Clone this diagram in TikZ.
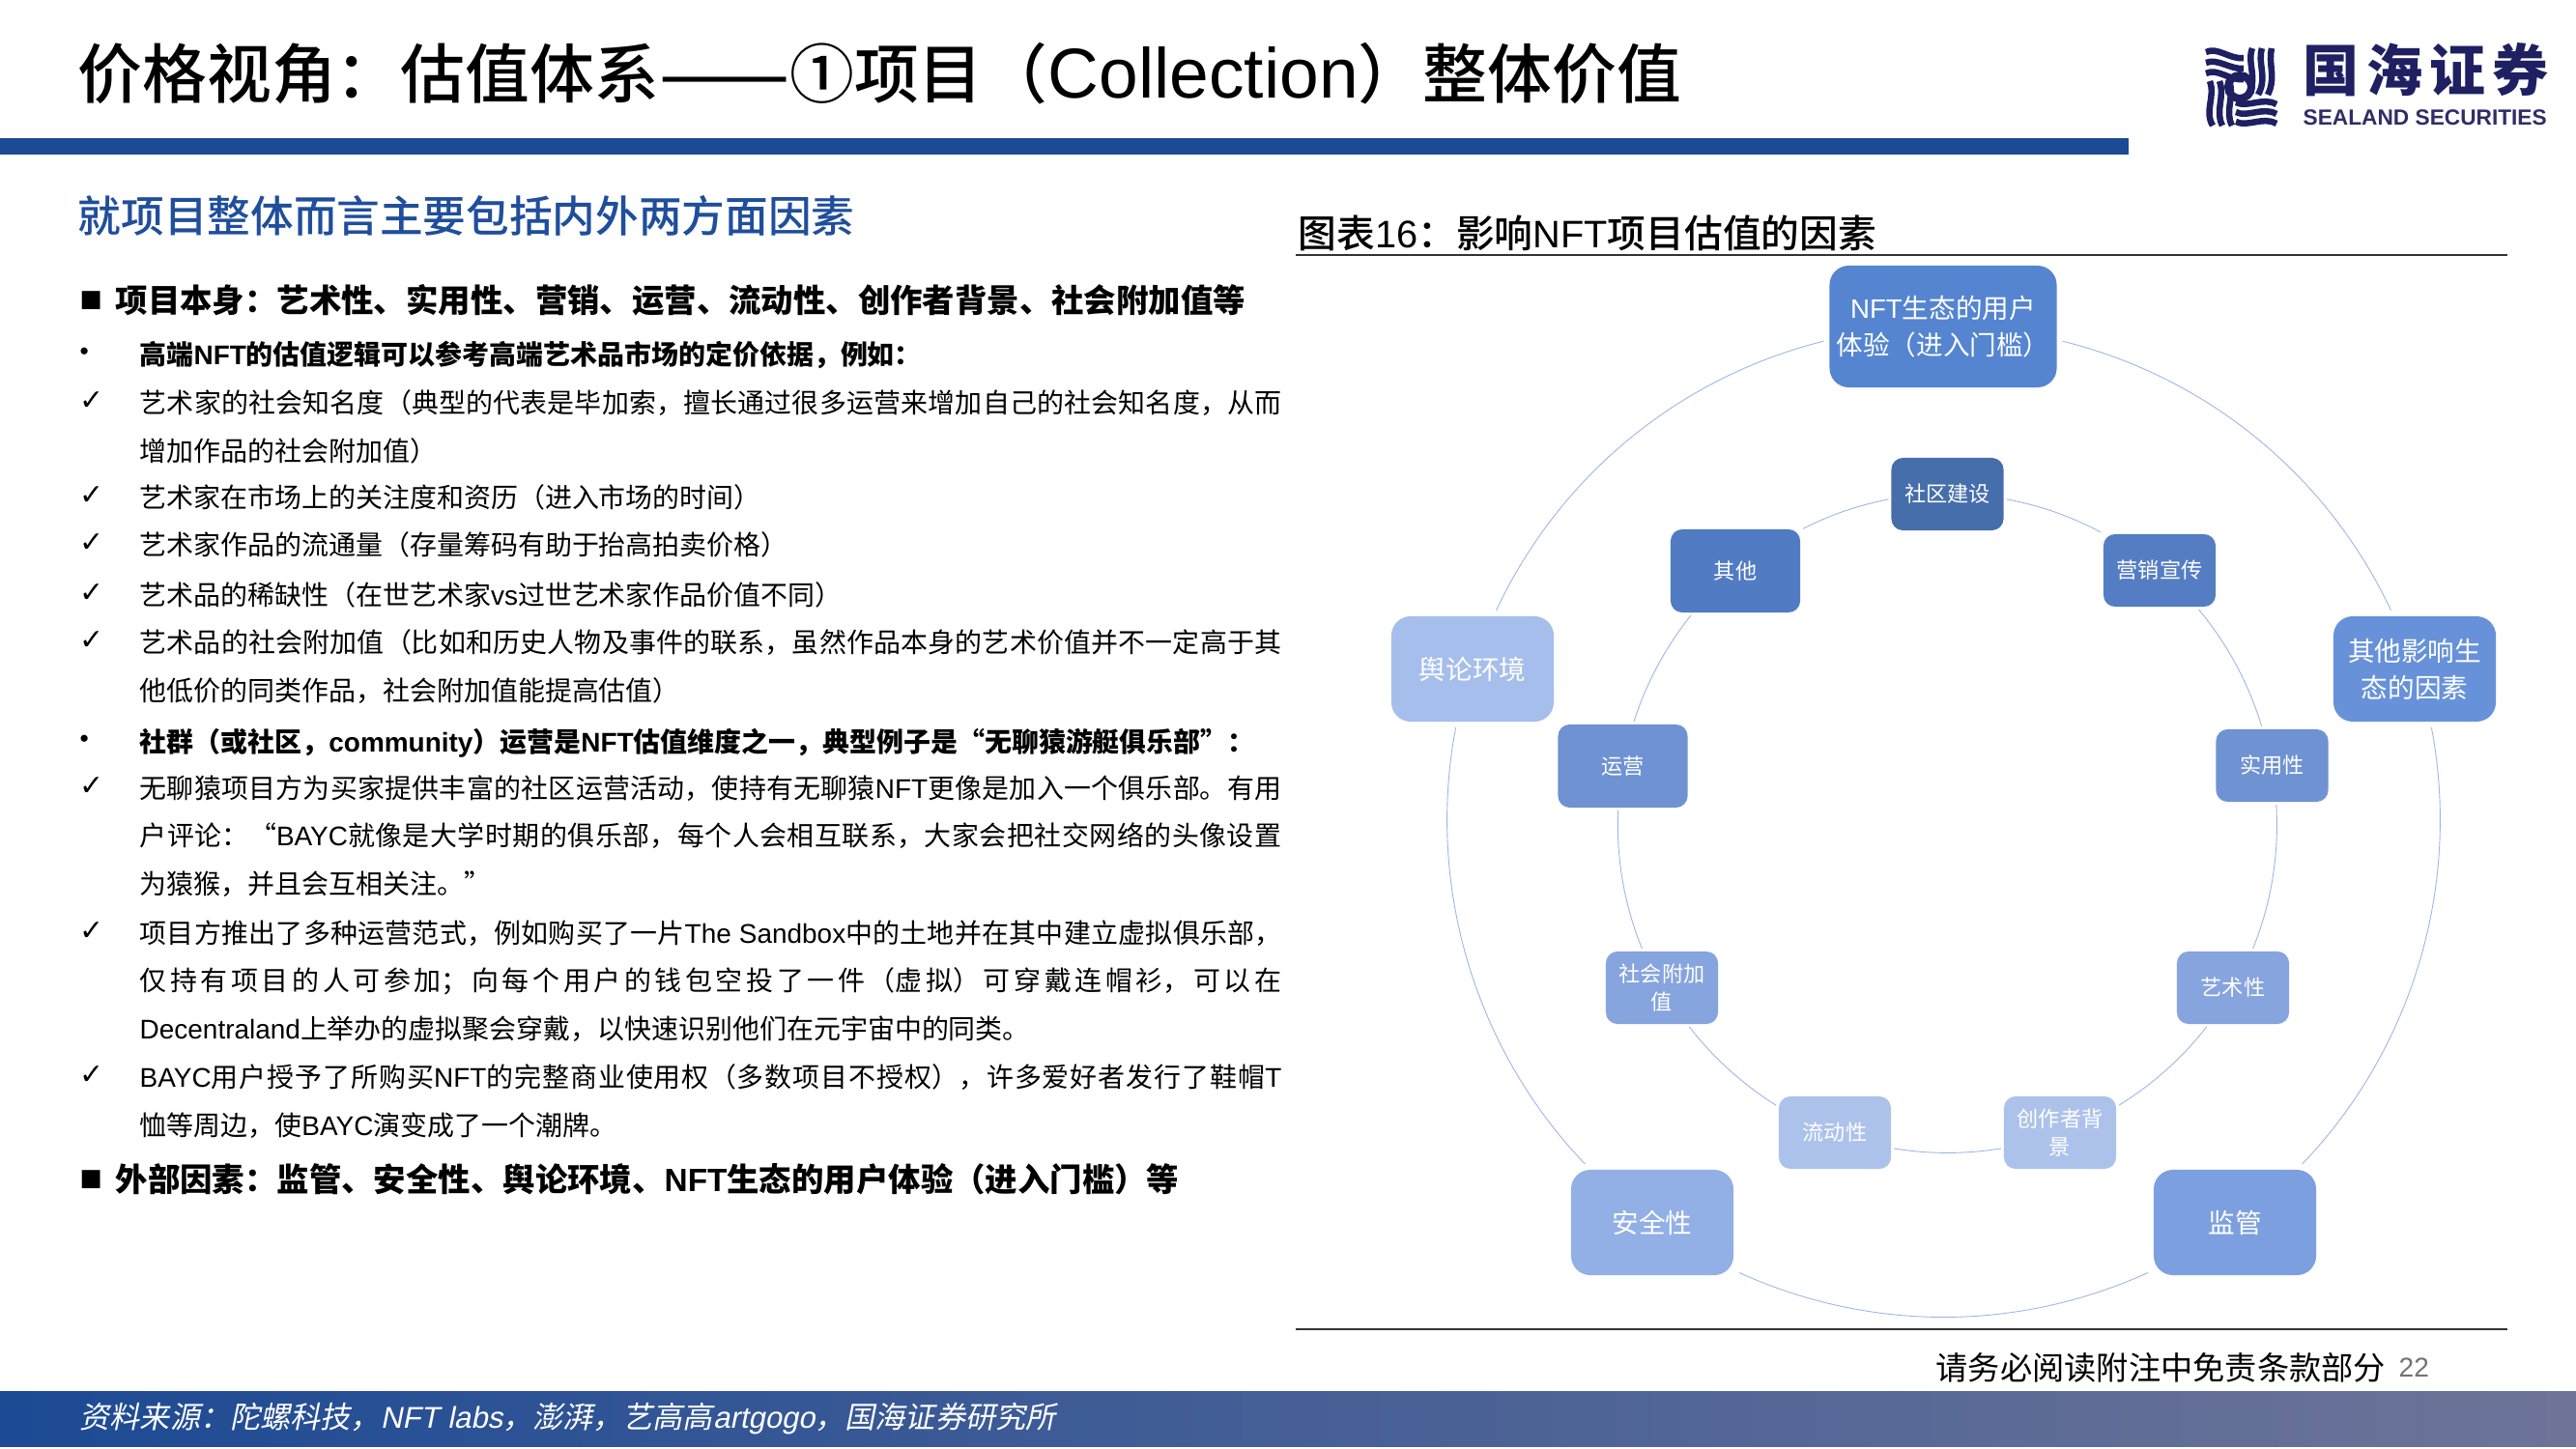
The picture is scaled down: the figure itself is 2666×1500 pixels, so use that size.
\documentclass[tikz,border=0pt]{standalone}
\usepackage{graphicx}
\usepackage{fontspec}
\setmainfont{Noto Sans CJK SC}
\newfontfamily\latfont{Liberation Sans}
\newfontfamily\dejafont{DejaVu Sans}
\newfontfamily\slantfont[FakeSlant=0.2]{Noto Sans CJK SC}
\newfontfamily\latslant[FakeSlant=0.2]{Liberation Sans}
\newfontfamily\medfont{Noto Sans CJK SC Medium}
\newcommand{\lat}[1]{{\latfont #1}}
\XeTeXlinebreaklocale "zh"
\XeTeXlinebreakskip=0pt plus 1pt minus 0.1pt
\tolerance=9999
\definecolor{barblue}{HTML}{1C4A94}
\definecolor{barend}{HTML}{6E7498}
\definecolor{headblue}{HTML}{1F4E9C}
\definecolor{logonavy}{HTML}{1E2062}
\definecolor{cnft}{HTML}{5585D0}
\definecolor{cshequ}{HTML}{466EAB}
\definecolor{cqita}{HTML}{517BC3}
\definecolor{cyingxiao}{HTML}{557DC3}
\definecolor{cyulun}{HTML}{A6BEEC}
\definecolor{cshengtai}{HTML}{6792DA}
\definecolor{cyunying}{HTML}{6F92D2}
\definecolor{cfujia}{HTML}{86A4DD}
\definecolor{cliudong}{HTML}{ADC2EB}
\definecolor{canquan}{HTML}{92AFE6}
\definecolor{cjianguan}{HTML}{7CA0DF}
\definecolor{ringblue}{HTML}{9DB6E2}
\tikzset{
    bignode/.style={rounded corners=0.2cm,inner sep=0pt,outer sep=0.06cm,text=white,align=center,font=\fontsize{7.85pt}{10.8pt}\selectfont,minimum width=1.68cm,minimum height=1.09cm},
    smallnode/.style={rounded corners=0.12cm,inner sep=0pt,outer sep=0.03cm,text=white,align=center,font=\fontsize{6.3pt}{8.4pt}\selectfont,minimum width=1.16cm,minimum height=0.75cm},
    midnode/.style={smallnode,minimum width=1.34cm,minimum height=0.86cm},
    outerring/.style={draw=ringblue,line width=0.25pt,looseness=0.9},
    innerring/.style={draw=ringblue,line width=0.25pt,looseness=0.86},
    listtext/.style={anchor=north west,inner sep=0pt,text width=11.81cm,align=justify,font=\fontsize{7.95pt}{14.05pt}\selectfont},
    boldtext/.style={listtext,font=\fontsize{7.95pt}{14.05pt}\selectfont\bfseries},
    listhead/.style={anchor=west,inner sep=0pt,font=\fontsize{9.5pt}{12pt}\selectfont\bfseries},
    checkmark/.style={anchor=west,inner sep=0pt,font=\fontsize{8.5pt}{10pt}\selectfont\dejafont},
    dotmark/.style={anchor=west,inner sep=0pt,font=\fontsize{7.5pt}{9pt}\selectfont\latfont},
    squaremark/.style={anchor=west,inner sep=0pt,font=\fontsize{7pt}{9pt}\selectfont\dejafont},
    rulerline/.style={draw=black!80,line width=0.35pt}
}
\begin{document}
\begin{tikzpicture}[x=0.01cm,y=-0.01cm]
    \useasboundingbox (0,0) rectangle (2666,1500);
    \fill[white] (0,0) rectangle (2666,1500);
    \fill[barblue] (0,143) rectangle (2203,160);
    \fill[left color=barblue,right color=barend] (0,1440) rectangle (2666,1497);
    \node[anchor=west,inner sep=0pt,font=\fontsize{19pt}{22pt}\selectfont\medfont] (title) at (80,76) {价格视角：估值体系\scalebox{1.2}[1]{——}①项目（{\latfont\fontsize{20.8pt}{22pt}\selectfont Collection}）整体价值};
    \foreach \ya/\yb/\yc in {54/48/62,65/60/72,76/70/84}{
        \draw[logonavy,line width=0.065cm] (2283,\ya) .. controls (2295,\yb) and (2308,\yc) .. (2322,\ya+6);
    }
    \foreach \xa/\xb/\xc in {2331/2325/2337,2341/2336/2347,2351/2347/2356}{
        \draw[logonavy,line width=0.065cm] (\xa,50) .. controls (\xb,65) and (\xc,80) .. (\xa-4,98);
    }
    \foreach \xa/\xb/\xc in {2287/2293/2281,2297/2303/2292,2307/2313/2302}{
        \draw[logonavy,line width=0.065cm] (\xa,84) .. controls (\xb,100) and (\xc,115) .. (\xa+3,130);
    }
    \foreach \ya/\yb/\yc in {106/112/100,116/122/110,126/132/120}{
        \draw[logonavy,line width=0.065cm] (2314,\ya) .. controls (2326,\yb) and (2342,\yc) .. (2356,\ya+2);
    }
    \draw[logonavy,line width=0.08cm] (2318,90) circle (12);
    \node[anchor=north west,inner sep=0pt,text=logonavy,font=\fontsize{16.5pt}{18pt}\selectfont\bfseries] (logoa) at (2383,44) {\makebox[2.54cm][s]{国\hfil 海\hfil 证\hfil 券}};
    \node[anchor=west,inner sep=0pt,text=logonavy!85!gray,font=\fontsize{6.45pt}{8pt}\selectfont\bfseries\latfont] (logob) at (2383,122) {SEALAND SECURITIES};
    \node[anchor=west,inner sep=0pt,text=headblue,font=\fontsize{12.7pt}{15pt}\selectfont\medfont] (head) at (80,223) {就项目整体而言主要包括内外两方面因素};
    \node[squaremark] (sqa) at (82,311) {■};
    \node[listhead] (lista) at (119,311) {项目本身：艺术性、实用性、营销、运营、流动性、创作者背景、社会附加值等};
    \node[dotmark] (dota) at (82,366) {•};
    \node[boldtext] (tb) at (144,352) {高端\lat{NFT}的估值逻辑可以参考高端艺术品市场的定价依据，例如：};
    \node[checkmark] (ca) at (82,415) {✓};
    \node[listtext] (tc) at (144,403) {艺术家的社会知名度（典型的代表是毕加索，擅长通过很多运营来增加自己的社会知名度，从而\linebreak 增加作品的社会附加值）};
    \node[checkmark] (cb) at (82,513) {✓};
    \node[listtext] (td) at (144,501) {艺术家在市场上的关注度和资历（进入市场的时间）};
    \node[checkmark] (cc) at (82,562) {✓};
    \node[listtext] (te) at (144,550) {艺术家作品的流通量（存量筹码有助于抬高拍卖价格）};
    \node[checkmark] (cd) at (82,614) {✓};
    \node[listtext] (tf) at (144,602) {艺术品的稀缺性（在世艺术家\lat{vs}过世艺术家作品价值不同）};
    \node[checkmark] (ce) at (82,663) {✓};
    \node[listtext] (tg) at (144,651) {艺术品的社会附加值（比如和历史人物及事件的联系，虽然作品本身的艺术价值并不一定高于其\linebreak 他低价的同类作品，社会附加值能提高估值）};
    \node[dotmark] (dotb) at (82,767) {•};
    \node[boldtext] (th) at (144,753) {社群（或社区，\lat{community}）运营是\lat{NFT}估值维度之一，典型例子是“无聊猿游艇俱乐部”：};
    \node[checkmark] (cf) at (82,814) {✓};
    \node[listtext] (ti) at (144,802) {无聊猿项目方为买家提供丰富的社区运营活动，使持有无聊猿\lat{NFT}更像是加入一个俱乐部。有用\linebreak 户评论：“\lat{BAYC}就像是大学时期的俱乐部，每个人会相互联系，大家会把社交网络的头像设置\linebreak 为猿猴，并且会互相关注。”};
    \node[checkmark] (cg) at (82,964) {✓};
    \node[listtext] (tj) at (144,952) {项目方推出了多种运营范式，例如购买了一片\lat{The Sandbox}中的土地并在其中建立虚拟俱乐部，\linebreak 仅持有项目的人可参加；向每个用户的钱包空投了一件（虚拟）可穿戴连帽衫，可以在\linebreak \lat{Decentraland}上举办的虚拟聚会穿戴，以快速识别他们在元宇宙中的同类。};
    \node[checkmark] (ch) at (82,1113) {✓};
    \node[listtext] (tk) at (144,1101) {\lat{BAYC}用户授予了所购买\lat{NFT}的完整商业使用权（多数项目不授权），许多爱好者发行了鞋帽\lat{T}\linebreak 恤等周边，使\lat{BAYC}演变成了一个潮牌。};
    \node[squaremark] (sqb) at (82,1221) {■};
    \node[listhead] (listb) at (119,1221) {外部因素：监管、安全性、舆论环境、\lat{NFT}生态的用户体验（进入门槛）等};
    \node[anchor=west,inner sep=0pt,font=\fontsize{11.3pt}{13pt}\selectfont\medfont] (fig) at (1343,241) {图表\lat{16}：影响\lat{NFT}项目估值的因素};
    \coordinate (ruleal) at (1341,264);
    \coordinate (rulear) at (2595,264);
    \coordinate (rulebl) at (1341,1376);
    \coordinate (rulebr) at (2595,1376);
    \draw[rulerline] (ruleal) -- (rulear);
    \draw[rulerline] (rulebl) -- (rulebr);
    \node[bignode,fill=cnft,minimum width=2.35cm,minimum height=1.26cm] (nft) at (2011,338) {\lat{NFT}生态的用户\\体验（进入门槛）};
    \node[bignode,fill=cshengtai] (shengtai) at (2499,692.5) {其他影响生\\态的因素};
    \node[bignode,fill=cjianguan] (jianguan) at (2313,1265.5) {监管};
    \node[bignode,fill=canquan] (anquan) at (1710,1265.5) {安全性};
    \node[bignode,fill=cyulun] (yulun) at (1524,692.5) {舆论环境};
    \draw[outerring] (nft.-7) to[bend left=25.4] (shengtai.112);
    \draw[outerring] (shengtai.-74) to[bend left=27.3] (jianguan.41);
    \draw[outerring] (jianguan.210) to[bend left=24.4] (anquan.-30);
    \draw[outerring] (anquan.139) to[bend left=27.3] (yulun.254);
    \draw[outerring] (yulun.68) to[bend left=25.4] (nft.187);
    \node[smallnode,fill=cshequ] (shequ) at (2015.5,511.5) {社区建设};
    \node[smallnode,fill=cyingxiao] (yingxiao) at (2235,590.5) {营销宣传};
    \node[smallnode,fill=cyunying] (shiyong) at (2351.5,792.5) {实用性};
    \node[smallnode,fill=cfujia] (yishu) at (2311,1022.5) {艺术性};
    \node[smallnode,fill=cliudong] (chuangzuo) at (2132,1172.5) {创作者背\\景};
    \node[smallnode,fill=cliudong] (liudong) at (1899,1172.5) {流动性};
    \node[smallnode,fill=cfujia] (fujia) at (1720,1022.5) {社会附加\\值};
    \node[midnode,fill=cyunying] (yunying) at (1679.5,793) {运营};
    \node[midnode,fill=cqita] (qita) at (1796,591) {其他};
    \draw[innerring] (shequ.-5) to[bend left=8.9] (yingxiao.147);
    \draw[innerring] (yingxiao.-45) to[bend left=11.6] (shiyong.105);
    \draw[innerring] (shiyong.-84) to[bend left=12.8] (yishu.63);
    \draw[innerring] (yishu.236) to[bend left=10.2] (chuangzuo.25);
    \draw[innerring] (chuangzuo.195) to[bend left=9.4] (liudong.-15);
    \draw[innerring] (liudong.155) to[bend left=10.1] (fujia.-55);
    \draw[innerring] (fujia.117.5) to[bend left=12.4] (yunying.264);
    \draw[innerring] (yunying.76) to[bend left=10.5] (qita.225);
    \draw[innerring] (qita.32.7) to[bend left=7.9] (shequ.185);
    \node[anchor=west,inner sep=0pt,font=\fontsize{9.45pt}{12pt}\selectfont] (note) at (2003,1416) {请务必阅读附注中免责条款部分};
    \node[anchor=west,inner sep=0pt,text=black!55,font=\fontsize{8pt}{10pt}\selectfont\latfont] (page) at (2482,1416) {22};
    \node[anchor=west,inner sep=0pt,text=white,font=\fontsize{8.85pt}{11pt}\selectfont\slantfont] (source) at (82,1469) {资料来源：陀螺科技，{\latslant NFT labs}，澎湃，艺高高{\latslant artgogo}，国海证券研究所};
\end{tikzpicture}
\end{document}
